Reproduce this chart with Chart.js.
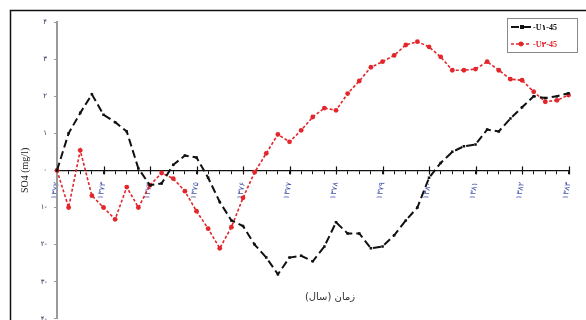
<!DOCTYPE html>
<html>
<head>
<meta charset="utf-8">
<script src="https://cdn.jsdelivr.net/npm/chart.js@4/dist/chart.umd.min.js"></script>
<style>
  html, body { margin: 0; padding: 0; background: #fff; overflow: hidden; }
  #wrap { position: relative; width: 586px; height: 330px; }
</style>
</head>
<body>
<div id="wrap"><canvas id="myChart"></canvas></div>
<script>
// tick labels on the x axis (one every 4 points)
const years = ['۱۳۷۲', '۱۳۷۳', '۱۳۷۴', '۱۳۷۵', '۱۳۷۶', '۱۳۷۷', '۱۳۷۸', '۱۳۷۹', '۱۳۸۰', '۱۳۸۱', '۱۳۸۲', '۱۳۸۳'];
const pointsPerYear = 4;

const seriesNames = ['U۱-45', 'U۲-45'];

const u1 = [0, 1.0, 1.55, 2.05, 1.5, 1.3, 1.05, 0.05, -0.4, -0.35, 0.15, 0.4, 0.35, -0.2, -0.85,
    -1.35, -1.5, -2.0, -2.35, -2.8, -2.35, -2.3, -2.45, -2.05, -1.4, -1.7, -1.7, -2.1, -2.05, -1.75,
    -1.35, -1.0, -0.2, 0.2, 0.5, 0.65, 0.7, 1.1, 1.05, 1.4, 1.7, 2.0, 1.95, 2.0, 2.08];

const u2 = [0, -1.0, 0.54, -0.68, -1.0, -1.32, -0.45, -1.0, -0.4, -0.07, -0.22, -0.56, -1.1, -1.57, -2.1,
    -1.53, -0.74, -0.05, 0.46, 0.97, 0.77, 1.08, 1.44, 1.68, 1.62, 2.07, 2.41, 2.78, 2.93, 3.1,
    3.38, 3.47, 3.33, 3.06, 2.7, 2.7, 2.73, 2.93, 2.7, 2.46, 2.43, 2.12, 1.85, 1.89, 2.03];

const yTicks = { 4: '۴', 3: '۳', 2: '۲', 1: '۱', 0: '۰', '-1': '۱-', '-2': '۲-', '-3': '۳-', '-4': '۴-' };

// categories: a year name at the start of each year, blank otherwise
const categories = u1.map((v, i) => (i % pointsPerYear === 0 ? (years[i / pointsPerYear] || '') : ''));

const black = '#111111';
const red = '#e3262b';

const data = {
    labels: categories,
    datasets: [{
        label: seriesNames[0],
        data: u1,
        borderColor: black,
        backgroundColor: black,
        borderWidth: 2,
        borderDash: [8, 4],
        pointStyle: 'rect',
        pointRadius: 1.8,
        pointBorderWidth: 0,
        tension: 0,
    }, {
        label: seriesNames[1],
        data: u2,
        borderColor: red,
        backgroundColor: red,
        borderWidth: 1.6,
        borderDash: [3, 2],
        pointStyle: 'circle',
        pointRadius: 2.4,
        pointBorderWidth: 0,
        tension: 0,
    }]
};

// frame, x-axis title, legend, longer ticks at each year
const decor = {
    id: 'decor',
    beforeDraw(chart) {
        const ctx = chart.ctx;
        ctx.save();
        ctx.fillStyle = '#fff';
        ctx.fillRect(0, 0, chart.width, chart.height);
        ctx.strokeStyle = '#111';
        ctx.lineWidth = 1.5;
        ctx.strokeRect(10.5, 10.5, 640, 400);
        ctx.restore();
    },
    afterDraw(chart) {
        const ctx = chart.ctx;
        const x = chart.scales.x, y = chart.scales.y;
        ctx.save();
        const y0 = y.getPixelForValue(0);
        ctx.strokeStyle = '#111';
        ctx.lineWidth = 1.2;
        categories.forEach((c, i) => {
            if (i % pointsPerYear !== 0 || i === 0) return;
            const px = Math.round(x.getPixelForValue(i)) + 0.5;
            ctx.beginPath();
            ctx.moveTo(px, y0 - 4);
            ctx.lineTo(px, y0 + 4);
            ctx.stroke();
        });
        // x title
        ctx.fillStyle = '#333';
        ctx.font = '10px "DejaVu Sans"';
        ctx.textAlign = 'center';
        ctx.textBaseline = 'middle';
        ctx.fillText('زمان (سال)', 330, 297);
        // legend
        const lx = 507, ly = 18, lw = 70, lh = 34;
        ctx.fillStyle = '#fff';
        ctx.fillRect(lx, ly, lw, lh);
        ctx.strokeStyle = '#888';
        ctx.lineWidth = 1;
        ctx.strokeRect(lx + 0.5, ly + 0.5, lw, lh);
        chart.data.datasets.forEach((ds, k) => {
            const ry = ly + 9 + k * 17;
            ctx.strokeStyle = ds.borderColor;
            ctx.lineWidth = ds.borderWidth;
            ctx.setLineDash(ds.borderDash);
            ctx.beginPath();
            ctx.moveTo(lx + 4, ry);
            ctx.lineTo(lx + 24, ry);
            ctx.stroke();
            ctx.setLineDash([]);
            ctx.fillStyle = ds.borderColor;
            if (ds.pointStyle === 'rect') {
                ctx.fillRect(lx + 13, ry - 2, 4, 4);
            } else {
                ctx.beginPath();
                ctx.arc(lx + 14, ry, 2.4, 0, Math.PI * 2);
                ctx.fill();
            }
            ctx.font = 'bold 8px "Liberation Serif", "DejaVu Sans"';
            ctx.textAlign = 'left';
            ctx.fillText('-' + ds.label, lx + 26, ry + 0.5);
        });
        ctx.restore();
    }
};

const config = {
    type: 'line',
    data: data,
    options: {
        responsive: true,
        maintainAspectRatio: false,
        animation: false,
        layout: { padding: { top: 22, right: 2, bottom: 2, left: 0 } },
        plugins: {
            legend: { display: false },
            tooltip: { enabled: false },
        },
        scales: {
            x: {
                type: 'category',
                position: { y: 0 },
                offset: false,
                afterFit(scale) { scale.height = 0; },
                border: { display: true, color: '#111', width: 1.2 },
                grid: { drawOnChartArea: false, tickLength: 3, color: '#111', lineWidth: 1 },
                ticks: {
                    autoSkip: false,
                    minRotation: 80,
                    maxRotation: 80,
                    padding: 8,
                    color: '#4455a8',
                    font: { family: 'DejaVu Sans', size: 8 },
                },
            },
            y: {
                min: -4,
                max: 4,
                afterFit(scale) { scale.width = 57; },
                border: { display: true, color: '#9a9a9a', width: 2 },
                grid: { drawOnChartArea: false, tickLength: 3, color: '#9a9a9a' },
                title: {
                    display: true,
                    text: 'SO4 (mg/l)',
                    color: '#222',
                    font: { family: 'Liberation Serif', size: 10 },
                    padding: { top: 19, bottom: 0 },
                },
                ticks: {
                    stepSize: 1,
                    padding: 7,
                    color: '#2a3050',
                    font: { family: 'DejaVu Sans', size: 7 },
                    callback: (v) => yTicks[v] || '',
                },
            },
        },
    },
    plugins: [decor],
};

const myChart = new Chart(document.getElementById('myChart'), config);
</script>
</body>
</html>
